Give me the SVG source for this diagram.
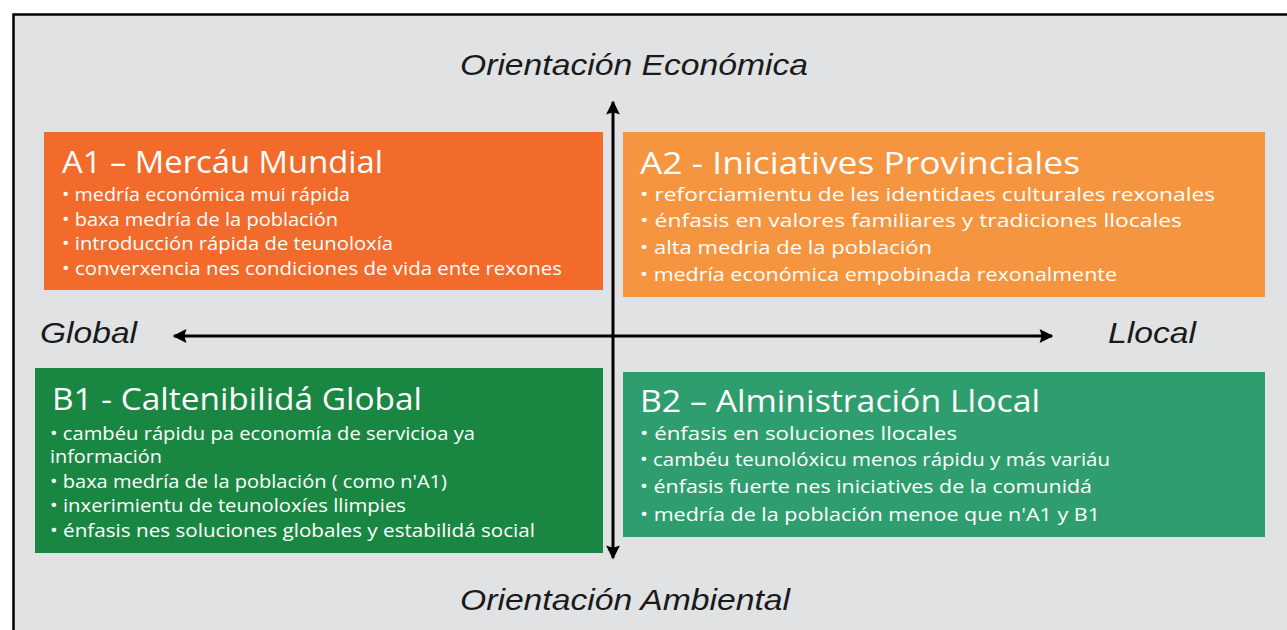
<svg xmlns="http://www.w3.org/2000/svg" width="1287" height="630" viewBox="0 0 1287 630">
<defs>
<style>
.ax{font-family:"Liberation Sans",Arial,sans-serif;font-style:italic;font-size:30px;fill:#1a1a1a}
.tt{font-family:"Open Sans","DejaVu Sans",sans-serif;font-size:31px;fill:#ffffff}
.bl{font-family:"Open Sans","DejaVu Sans",sans-serif;font-size:18px;fill:#ffffff}
.axl{stroke:#000;stroke-width:3;fill:none}
</style>
<marker id="ah" viewBox="0 0 10 10" refX="9" refY="5" markerWidth="5" markerHeight="4.6" orient="auto" markerUnits="strokeWidth">
<path d="M0,0 L10,5 L0,10 L1.5,5 Z" fill="#000"/>
</marker>
</defs>
<rect x="0" y="0" width="1287" height="630" fill="#ffffff"/>
<rect x="13.5" y="14.5" width="1290" height="630" fill="#e1e2e4" stroke="#000" stroke-width="2.5"/>

<g id="label-top"><text class="ax" x="634" y="75" text-anchor="middle" textLength="348" lengthAdjust="spacingAndGlyphs">Orientación Económica</text></g>
<g id="label-bottom"><text class="ax" x="625" y="610" text-anchor="middle" textLength="330" lengthAdjust="spacingAndGlyphs">Orientación Ambiental</text></g>
<g id="label-left"><text class="ax" x="40" y="343" textLength="97" lengthAdjust="spacingAndGlyphs">Global</text></g>
<g id="label-right"><text class="ax" x="1108" y="343" textLength="88" lengthAdjust="spacingAndGlyphs">Llocal</text></g>

<g id="A1">
<rect x="44" y="132" width="559" height="158" fill="#f26b2b"/>
<text class="tt" x="62" y="173" textLength="321" lengthAdjust="spacingAndGlyphs">A1 – Mercáu Mundial</text>
<text class="bl" x="62" y="201" textLength="288" lengthAdjust="spacingAndGlyphs">• medría económica mui rápida</text>
<text class="bl" x="62" y="226" textLength="276" lengthAdjust="spacingAndGlyphs">• baxa medría de la población</text>
<text class="bl" x="62" y="250" textLength="331" lengthAdjust="spacingAndGlyphs">• introducción rápida de teunoloxía</text>
<text class="bl" x="62" y="275" textLength="500" lengthAdjust="spacingAndGlyphs">• converxencia nes condiciones de vida ente rexones</text>
</g>

<g id="A2">
<rect x="623" y="132" width="642" height="165" fill="#f6953f"/>
<text class="tt" x="640" y="174" textLength="440" lengthAdjust="spacingAndGlyphs">A2 - Iniciatives Provinciales</text>
<text class="bl" x="640" y="201" textLength="575" lengthAdjust="spacingAndGlyphs">• reforciamientu de les identidaes culturales rexonales</text>
<text class="bl" x="640" y="227" textLength="542" lengthAdjust="spacingAndGlyphs">• énfasis en valores familiares y tradiciones llocales</text>
<text class="bl" x="640" y="254" textLength="292" lengthAdjust="spacingAndGlyphs">• alta medria de la población</text>
<text class="bl" x="640" y="281" textLength="477" lengthAdjust="spacingAndGlyphs">• medría económica empobinada rexonalmente</text>
</g>

<g id="B1">
<rect x="35" y="368" width="568" height="185" fill="#198742"/>
<text class="tt" x="52" y="410" textLength="370" lengthAdjust="spacingAndGlyphs">B1 - Caltenibilidá Global</text>
<text class="bl" x="50" y="440" textLength="425" lengthAdjust="spacingAndGlyphs">•  cambéu rápidu pa economía de servicioa ya</text>
<text class="bl" x="50" y="463" textLength="112" lengthAdjust="spacingAndGlyphs">información</text>
<text class="bl" x="50" y="488" textLength="397" lengthAdjust="spacingAndGlyphs">• baxa medría de la población ( como n'A1)</text>
<text class="bl" x="50" y="512" textLength="356" lengthAdjust="spacingAndGlyphs">• inxerimientu de teunoloxíes llimpies</text>
<text class="bl" x="50" y="537" textLength="485" lengthAdjust="spacingAndGlyphs">• énfasis nes soluciones globales y estabilidá social</text>
</g>

<g id="B2">
<rect x="623" y="372" width="642" height="165" fill="#2e9e6f"/>
<text class="tt" x="640" y="412" textLength="400" lengthAdjust="spacingAndGlyphs">B2 – Alministración Llocal</text>
<text class="bl" x="640" y="440" textLength="317" lengthAdjust="spacingAndGlyphs">• énfasis en soluciones llocales</text>
<text class="bl" x="640" y="466" textLength="470" lengthAdjust="spacingAndGlyphs">• cambéu teunolóxicu menos rápidu y más variáu</text>
<text class="bl" x="640" y="493" textLength="452" lengthAdjust="spacingAndGlyphs">• énfasis fuerte nes iniciatives de la comunidá</text>
<text class="bl" x="640" y="521" textLength="460" lengthAdjust="spacingAndGlyphs">• medría de la población menoe que n'A1 y B1</text>
</g>

<g id="connectors">
<line class="axl" x1="613" y1="336" x2="613" y2="102" marker-end="url(#ah)"/>
<line class="axl" x1="613" y1="336" x2="613" y2="558" marker-end="url(#ah)"/>
<line class="axl" x1="613" y1="336" x2="174" y2="336" marker-end="url(#ah)"/>
<line class="axl" x1="613" y1="336" x2="1052" y2="336" marker-end="url(#ah)"/>
</g>
</svg>
